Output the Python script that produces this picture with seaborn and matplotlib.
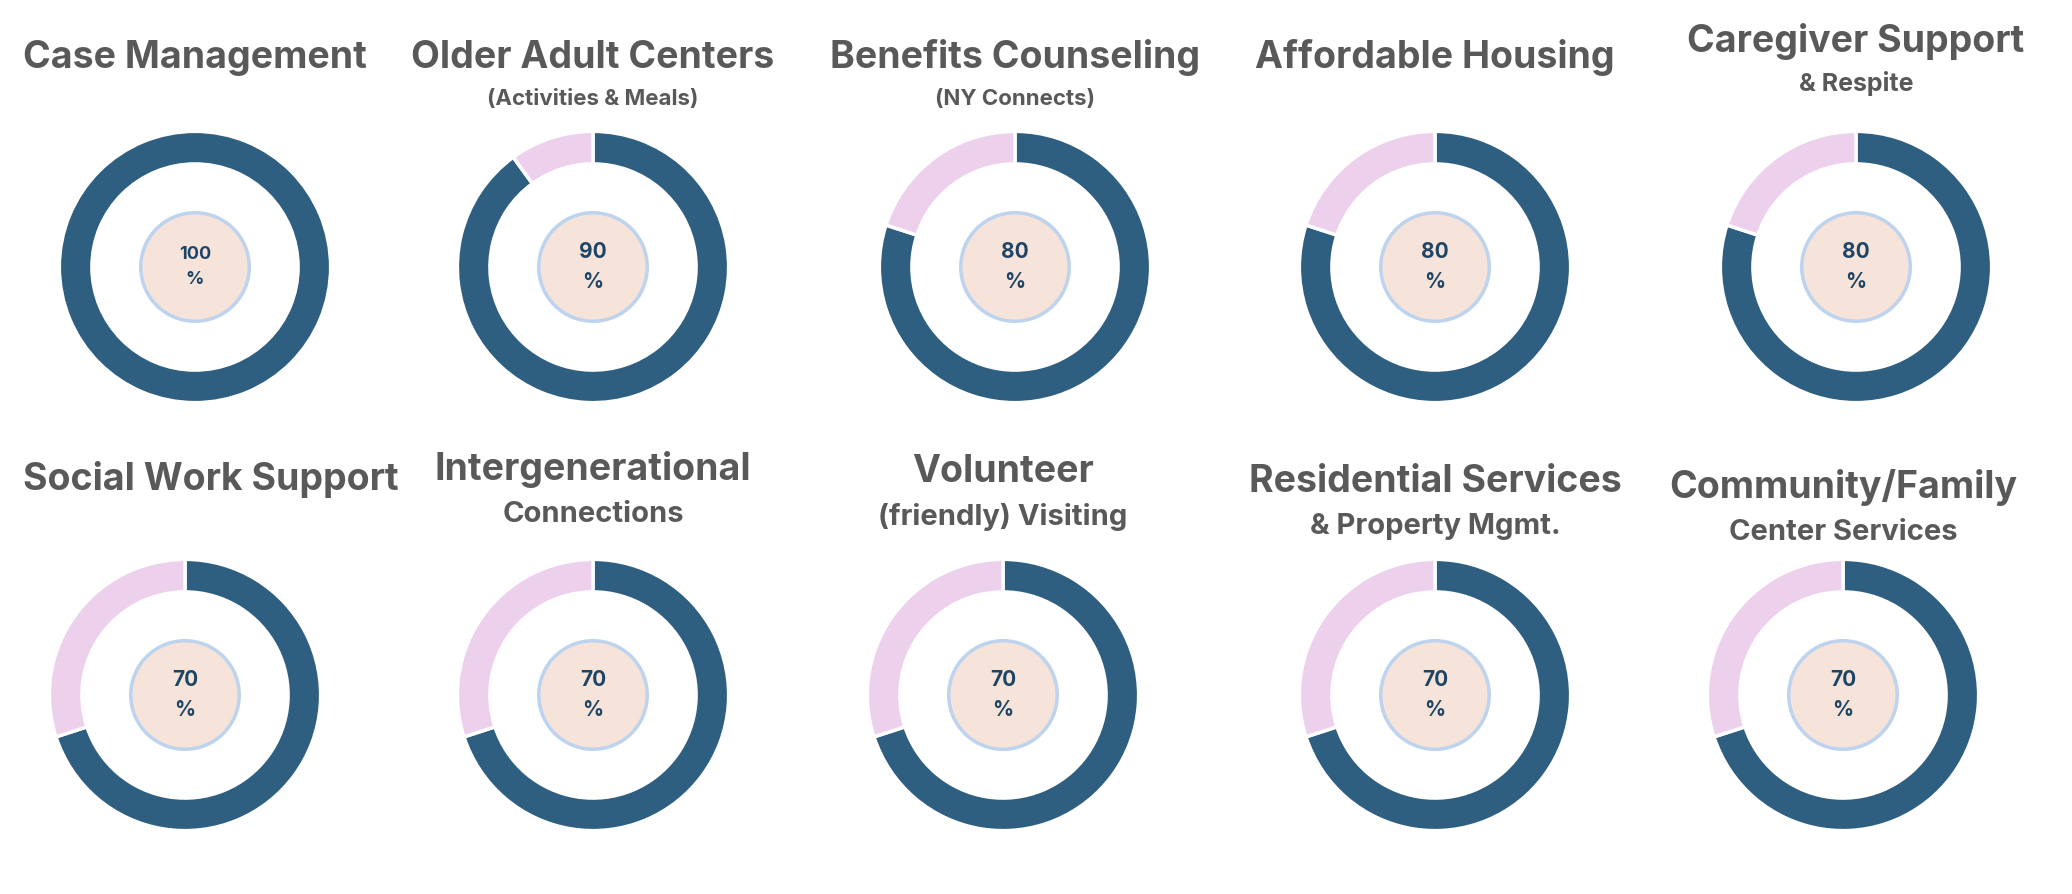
import matplotlib
matplotlib.use("Agg")
import matplotlib.pyplot as plt
import seaborn as sns

titles = ["Case Management", "Older Adult Centers", "Benefits Counseling", "Affordable Housing", "Caregiver Support",
          "Social Work Support", "Intergenerational", "Volunteer", "Residential Services", "Community/Family"]
subtitles = ["", "(Activities & Meals)", "(NY Connects)", "", "& Respite",
             "", "Connections", "(friendly) Visiting", "& Property Mgmt.", "Center Services"]
values = [100, 90, 80, 80, 80, 70, 70, 70, 70, 70]

DARK = "#2E5F80"
PINK = "#EDD0EC"
W, H = 2072, 894

sns.set_theme(style="white")
plt.rcParams['font.family'] = ['Inter', 'DejaVu Sans']

fig = plt.figure(figsize=(W / 100, H / 100), dpi=100)
fig.patch.set_facecolor("white")

cx = [[195, 593, 1015, 1435, 1856], [185, 593, 1003, 1435, 1843]]
cy = [267, 695]
R = 137
title_y = [[58, 58, 58, 58, 42], [480, 469, 472, 482, 487]]
title_x = {5: 211}
sub_size = [0, 16, 16, 0, 18, 0, 21, 21, 21, 21]

for i, (t, s, v) in enumerate(zip(titles, subtitles, values)):
    row, col = divmod(i, 5)
    x, y = cx[row][col], cy[row]
    ax = fig.add_axes([(x - R) / W, 1 - (y + R) / H, 2 * R / W, 2 * R / H])
    vals = [v, 100 - v] if v < 100 else [v]
    cols = [DARK, PINK][:len(vals)]
    ax.pie(vals, colors=cols, startangle=90, counterclock=False, radius=1,
           wedgeprops=dict(width=0.24, edgecolor="white", linewidth=2.5))
    ax.add_patch(plt.Circle((0, 0), 0.4, facecolor="#F6E4DA", edgecolor="#BDD3EE", lw=2.5))
    ax.text(0, 0, f"{v}\n%", ha="center", va="center", fontsize=15 if v < 100 else 13,
            fontweight="bold", color="#1F4566", linespacing=1.6)
    ax.set_xlim(-1.01, 1.01)
    ax.set_ylim(-1.01, 1.01)
    ax.set_aspect("equal")
    ax.axis("off")

    ty = title_y[row][col]
    tx = title_x.get(i, x)
    fig.text(tx / W, 1 - ty / H, t, ha="center", va="center", fontsize=27,
             fontweight="bold", color="#595959")
    if s:
        fs = sub_size[i]
        fig.text(tx / W, 1 - (ty + (45 if fs > 20 else 41)) / H, s, ha="center", va="center",
                 fontsize=fs, fontweight="bold", color="#595959")

fig.savefig("out.png", dpi=100, facecolor="white")
